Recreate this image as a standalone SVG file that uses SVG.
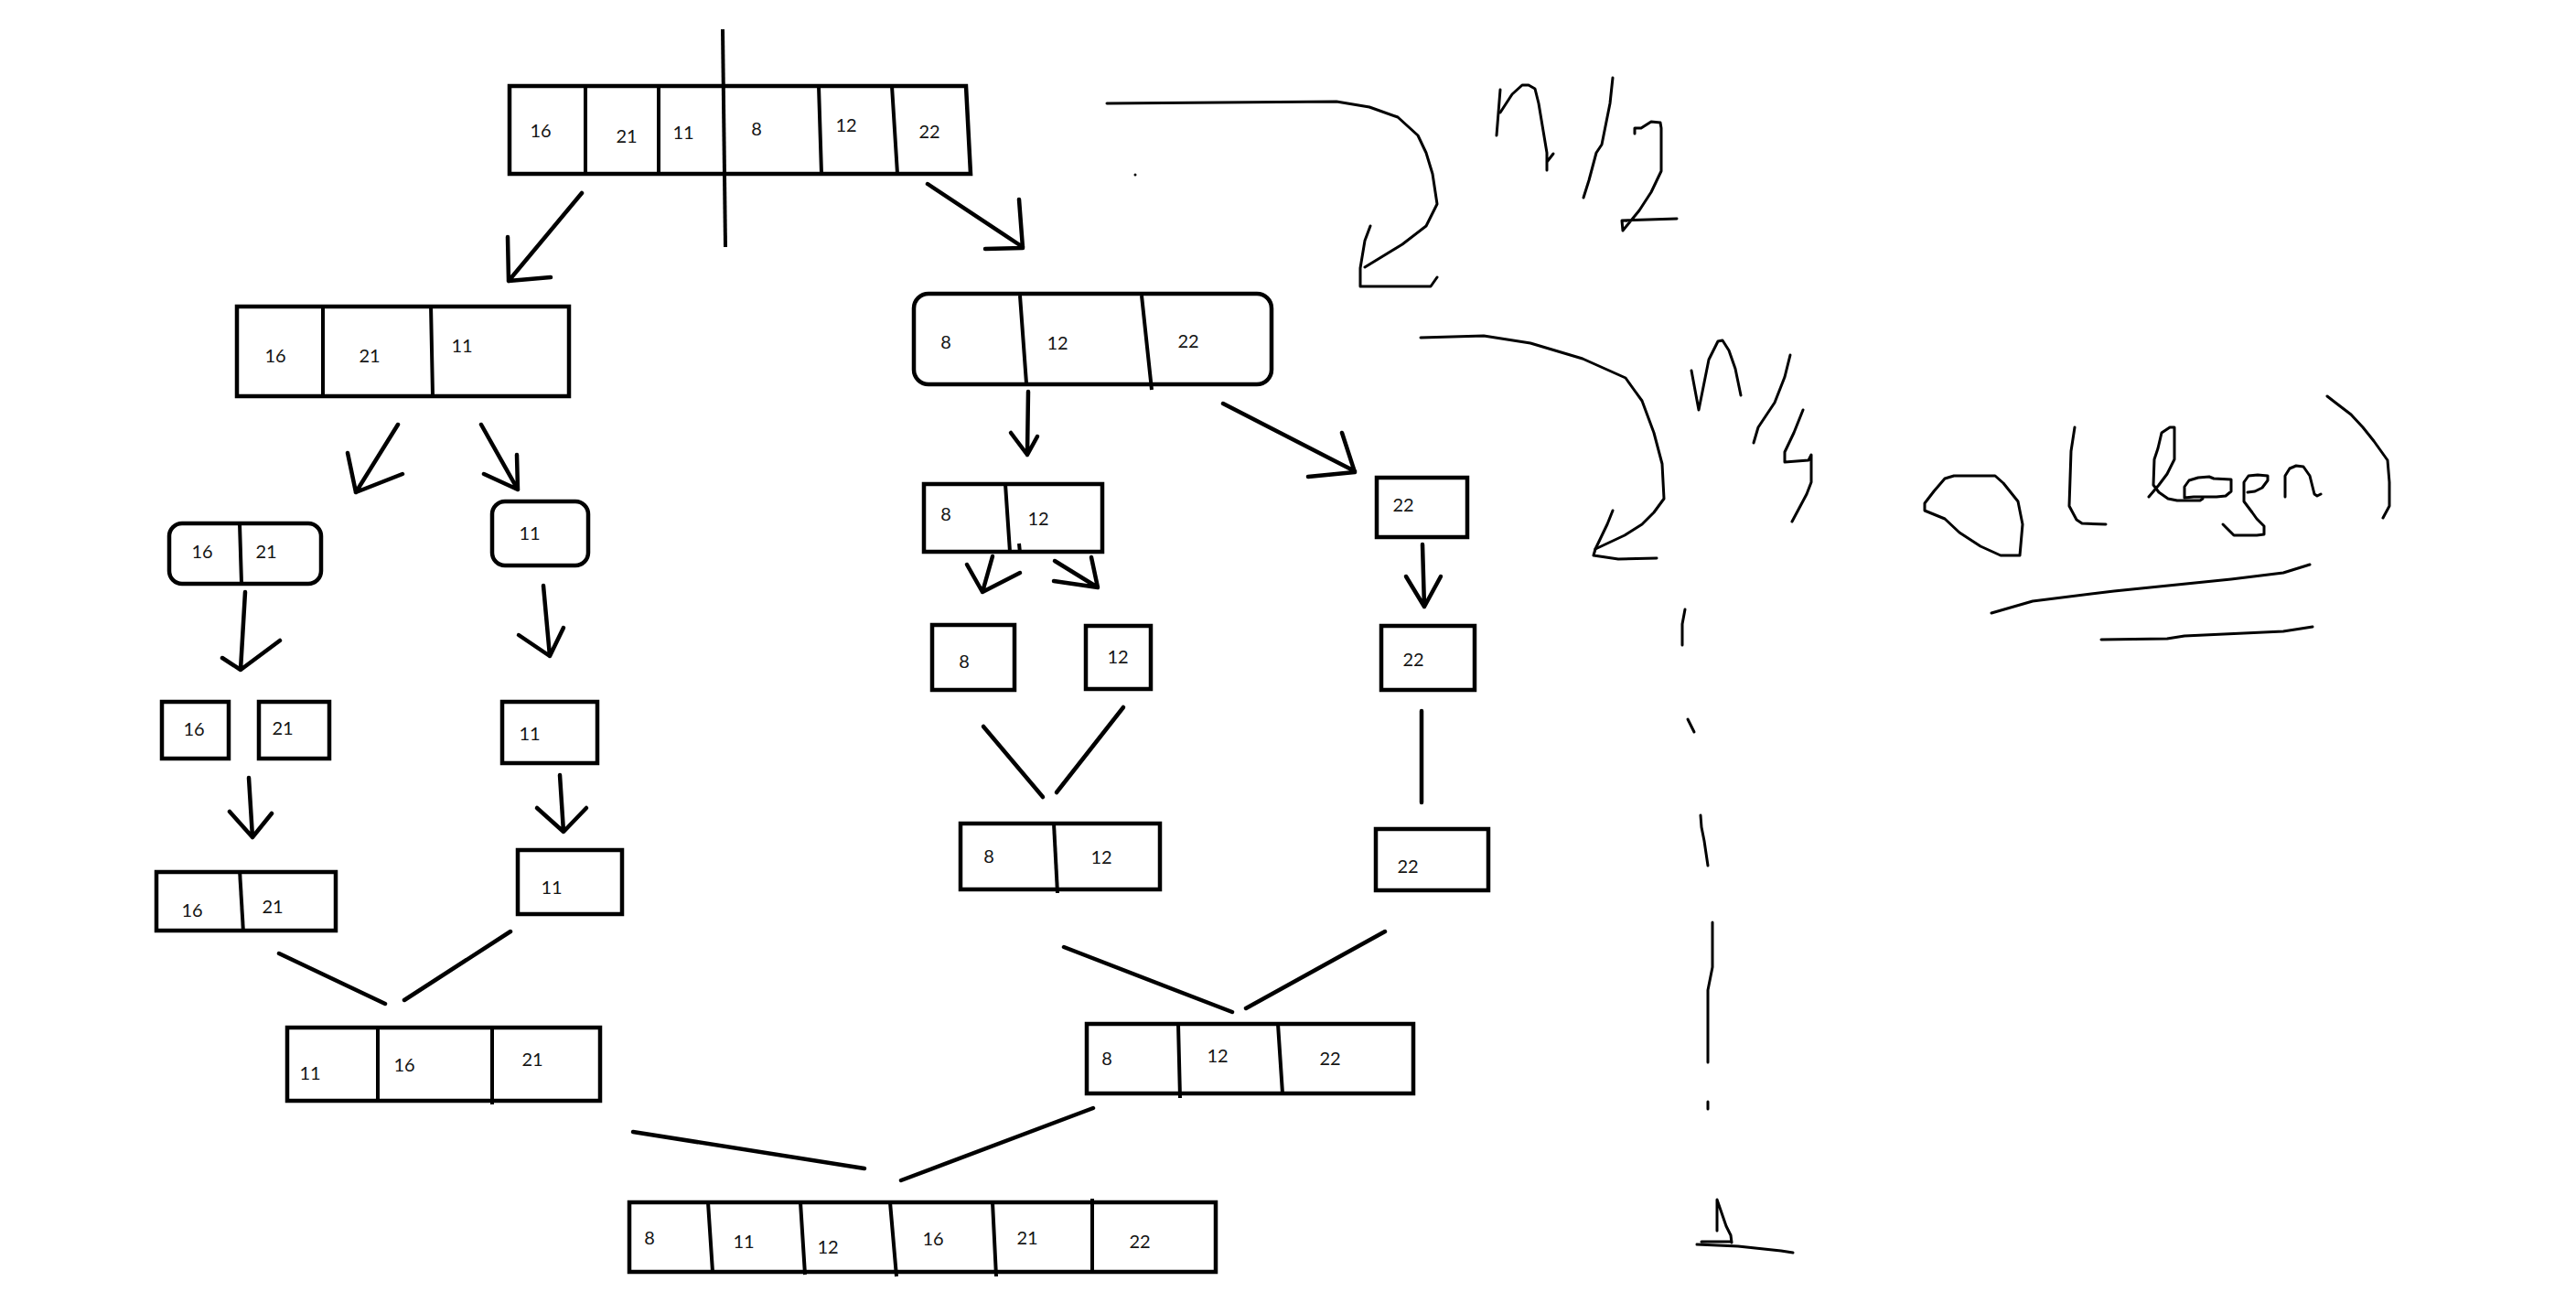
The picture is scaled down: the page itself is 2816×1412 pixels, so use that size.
<svg xmlns="http://www.w3.org/2000/svg" width="2816" height="1412" viewBox="0 0 2816 1412">
  <style>
    .box { fill: none; stroke: #000; stroke-width: 4.5; stroke-linejoin: miter; }
    .div { fill: none; stroke: #000; stroke-width: 4; }
    .num { font-family: Lato, "Open Sans", "Liberation Sans", sans-serif; font-size: 20px; fill: #141414; text-anchor: middle; }
    .edge { fill: none; stroke: #000; stroke-width: 4.5; stroke-linecap: round; stroke-linejoin: round; }
    .ink { fill: none; stroke: #000; stroke-width: 3; stroke-linecap: round; stroke-linejoin: round; }
  </style>
  <rect width="2816" height="1412" fill="#fff"/>

  <!-- level 0: the unsorted array, with the split line -->
  <g id="n-root">
    <path class="box" d="M557,94 L1056,94 L1061,190 L557,190 Z"/>
    <path class="div" d="M640,94 L640,190 M720,94 L720,190 M895,94 L898,190 M975,94 L981,190"/>
    <path class="div" d="M790,32 L793,270"/>
    <text class="num" x="591" y="150">16</text>
    <text class="num" x="685" y="156">21</text>
    <text class="num" x="747" y="152">11</text>
    <text class="num" x="827" y="148">8</text>
    <text class="num" x="925" y="144">12</text>
    <text class="num" x="1016" y="151">22</text>
  </g>

  <!-- level 1 -->
  <g id="n-left">
    <rect class="box" x="259" y="335" width="363" height="98"/>
    <path class="div" d="M353,335 L353,433 M471,333 L473,432"/>
    <text class="num" x="301" y="396">16</text>
    <text class="num" x="404" y="396">21</text>
    <text class="num" x="505" y="385">11</text>
  </g>
  <g id="n-right">
    <rect class="box" x="999" y="321" width="391" height="99" rx="16"/>
    <path class="div" d="M1115,323 L1122,419 M1248,323 L1259,426"/>
    <text class="num" x="1034" y="381">8</text>
    <text class="num" x="1156" y="382">12</text>
    <text class="num" x="1299" y="380">22</text>
  </g>

  <!-- level 2 -->
  <g id="n-16-21">
    <rect class="box" x="185" y="572" width="166" height="66" rx="14"/>
    <path class="div" d="M262,572 L264,638"/>
    <text class="num" x="221" y="610">16</text>
    <text class="num" x="291" y="610">21</text>
  </g>
  <g id="n-11">
    <rect class="box" x="538" y="548" width="105" height="70" rx="14"/>
    <text class="num" x="579" y="590">11</text>
  </g>
  <g id="n-8-12">
    <rect class="box" x="1010" y="529" width="195" height="74"/>
    <path class="div" d="M1099,529 L1104,603 M1114,594 L1115,604"/>
    <text class="num" x="1034" y="569">8</text>
    <text class="num" x="1135" y="574">12</text>
  </g>
  <g id="n-22">
    <rect class="box" x="1505" y="522" width="99" height="65"/>
    <text class="num" x="1534" y="559">22</text>
  </g>

  <!-- level 3: single elements -->
  <g id="n-16">
    <rect class="box" x="177" y="767" width="73" height="62"/>
    <text class="num" x="212" y="804">16</text>
  </g>
  <g id="n-21">
    <rect class="box" x="283" y="767" width="77" height="62"/>
    <text class="num" x="309" y="803">21</text>
  </g>
  <g id="n-11b">
    <rect class="box" x="549" y="767" width="104" height="67"/>
    <text class="num" x="579" y="809">11</text>
  </g>
  <g id="n-8">
    <rect class="box" x="1019" y="683" width="90" height="71"/>
    <text class="num" x="1054" y="730">8</text>
  </g>
  <g id="n-12">
    <rect class="box" x="1187" y="684" width="71" height="69"/>
    <text class="num" x="1222" y="725">12</text>
  </g>
  <g id="n-22b">
    <rect class="box" x="1510" y="684" width="102" height="70"/>
    <text class="num" x="1545" y="728">22</text>
  </g>

  <!-- level 4: first merges -->
  <g id="m-16-21">
    <rect class="box" x="171" y="953" width="196" height="64"/>
    <path class="div" d="M262,951 L266,1019"/>
    <text class="num" x="210" y="1002">16</text>
    <text class="num" x="298" y="998">21</text>
  </g>
  <g id="m-11">
    <rect class="box" x="566" y="929" width="114" height="70"/>
    <text class="num" x="603" y="977">11</text>
  </g>
  <g id="m-8-12">
    <rect class="box" x="1050" y="900" width="218" height="72"/>
    <path class="div" d="M1152,900 L1156,976"/>
    <text class="num" x="1081" y="943">8</text>
    <text class="num" x="1204" y="944">12</text>
  </g>
  <g id="m-22">
    <rect class="box" x="1504" y="906" width="123" height="67"/>
    <text class="num" x="1539" y="954">22</text>
  </g>

  <!-- level 5 -->
  <g id="m-11-16-21">
    <rect class="box" x="314" y="1123" width="342" height="80"/>
    <path class="div" d="M413,1123 L413,1203 M538,1123 L538,1207"/>
    <text class="num" x="339" y="1180">11</text>
    <text class="num" x="442" y="1171">16</text>
    <text class="num" x="582" y="1165">21</text>
  </g>
  <g id="m-8-12-22">
    <rect class="box" x="1188" y="1119" width="357" height="76"/>
    <path class="div" d="M1288,1119 L1290,1200 M1397,1119 L1402,1195"/>
    <text class="num" x="1210" y="1164">8</text>
    <text class="num" x="1331" y="1161">12</text>
    <text class="num" x="1454" y="1164">22</text>
  </g>

  <!-- level 6: sorted result -->
  <g id="m-sorted">
    <rect class="box" x="688" y="1314" width="641" height="76"/>
    <path class="div" d="M774,1314 L779,1390 M875,1314 L880,1393 M973,1314 L980,1395 M1085,1314 L1089,1395 M1194,1310 L1194,1390"/>
    <text class="num" x="710" y="1360">8</text>
    <text class="num" x="813" y="1364">11</text>
    <text class="num" x="905" y="1370">12</text>
    <text class="num" x="1020" y="1361">16</text>
    <text class="num" x="1123" y="1360">21</text>
    <text class="num" x="1246" y="1364">22</text>
  </g>

  <!-- split arrows and merge lines -->
  <g id="connectors">
    <path class="edge" d="M636,211 L556,307 M555,259 L556,307 L602,303"/>
    <path class="edge" d="M1014,201 L1118,270 M1114,218 L1118,271 L1077,272"/>
    <path class="edge" d="M435,464 L389,538 M380,495 L389,538 L440,518"/>
    <path class="edge" d="M526,464 L566,535 M565,497 L566,535 L529,518"/>
    <path class="edge" d="M1124,428 L1123,497 M1105,473 L1123,497 L1134,477"/>
    <path class="edge" d="M1337,441 L1481,515 M1467,473 L1481,516 L1430,521"/>
    <path class="edge" d="M268,647 L263,732 M243,719 L263,732 L306,700"/>
    <path class="edge" d="M594,640 L601,717 M567,694 L601,717 L616,686"/>
    <path class="edge" d="M1085,608 L1074,647 M1057,617 L1074,647 L1115,626"/>
    <path class="edge" d="M1153,613 L1200,642 M1193,609 L1200,642 L1152,635"/>
    <path class="edge" d="M1555,595 L1557,663 M1537,630 L1557,663 L1575,630"/>
    <path class="edge" d="M272,850 L276,915 M251,887 L276,915 L297,889"/>
    <path class="edge" d="M612,847 L616,909 M587,883 L616,909 L641,883"/>
    <path class="edge" d="M1075,794 L1140,871 M1228,773 L1155,866"/>
    <path class="edge" d="M1554,777 L1554,877"/>
    <path class="edge" d="M305,1042 L421,1097 M558,1018 L442,1093"/>
    <path class="edge" d="M1163,1035 L1347,1106 M1514,1018 L1362,1102"/>
    <path class="edge" d="M692,1237 L945,1277 M1195,1211 L985,1290" stroke-width="5.5"/>
  </g>

  <!-- freehand notes: n/2, n/4 ... 1 and O(log n) -->
  <g id="notes">
    <path class="ink" d="M1210,113 L1461,111 L1497,117 L1528,128 L1550,148 L1559,167 L1566,190 L1571,223 L1559,247 L1533,267 L1492,292"/>
    <path class="ink" d="M1498,247 L1492,263 L1487,293 L1487,313 L1564,313 L1571,303"/>
    <circle cx="1241" cy="191" r="1.5" fill="#000"/>

    <path class="ink" d="M1640,98 L1636,148"/>
    <path class="ink" d="M1640,123 L1653,103 L1664,93 L1671,93 L1678,97 L1682,113 L1687,143 L1691,167 L1691,186 M1691,177 L1698,168"/>
    <path class="ink" d="M1763,85 L1760,113 L1751,158 L1745,167 L1737,197 L1731,216"/>
    <path class="ink" d="M1787,146 L1787,140 L1794,140 L1805,133 L1815,134 L1816,140 L1816,187 L1805,210 L1792,230 L1774,252 L1773,241 L1833,239"/>

    <path class="ink" d="M1553,369 L1622,367 L1673,375 L1730,392 L1777,413 L1787,427 L1795,438 L1808,473 L1817,507 L1819,545 L1808,560 L1795,573 L1776,585 L1744,600"/>
    <path class="ink" d="M1763,558 L1757,573 L1744,600 L1742,607 L1769,611 L1811,610"/>

    <path class="ink" d="M1849,405 L1857,448 L1868,393 L1878,373 L1883,372 L1890,383 L1897,403 L1903,432"/>
    <path class="ink" d="M1957,388 L1951,412 L1940,440 L1922,467 L1917,484"/>
    <path class="ink" d="M1971,448 L1961,473 L1951,494 L1951,505 L1977,503 L1980,497 L1980,527 L1975,540 L1959,570"/>

    <path class="ink" d="M1842,666 L1839,682 L1839,705"/>
    <path class="ink" d="M1845,786 L1852,800"/>
    <path class="ink" d="M1859,891 L1860,904 L1863,919 L1867,946"/>
    <path class="ink" d="M1872,1008 L1872,1057 L1867,1082 L1867,1161"/>
    <path class="ink" d="M1867,1204 L1867,1212"/>
    <path class="ink" d="M1877,1345 L1877,1311 L1887,1340 L1892,1350 L1893,1358 M1860,1357 L1893,1357 M1855,1360 L1900,1362 L1947,1367 L1960,1369"/>

    <path class="ink" d="M2126,523 L2136,520 L2181,520 L2190,528 L2206,548 L2211,573 L2208,607 L2187,607 L2165,597 L2142,582 L2126,567 L2104,558 L2104,550 L2114,537 Z"/>
    <path class="ink" d="M2268,467 L2264,493 L2262,553 L2270,568 L2276,572 L2302,573"/>
    <path class="ink" d="M2349,543 L2360,530 L2369,518 L2377,502 L2377,467 L2372,467 L2363,473 L2359,490 L2355,502 L2354,530 L2360,538 L2370,545 L2380,547 L2388,547 L2405,547 L2408,545"/>
    <path class="ink" d="M2388,544 L2388,532 L2393,525 L2403,522 L2415,521 L2420,523 L2439,524 L2439,537 L2433,542 L2423,543 L2408,543 L2398,543 Z"/>
    <path class="ink" d="M2457,538 L2465,537 L2473,533 L2479,525 L2479,520 L2468,519 L2458,520 L2453,527 L2453,548 L2462,560 L2467,567 L2475,575 L2475,584 L2467,585 L2442,585 L2435,578 L2430,573"/>
    <path class="ink" d="M2498,543 L2498,520 L2503,512 L2510,509 L2518,510 L2525,520 L2530,540 L2533,542 L2537,540"/>
    <path class="ink" d="M2544,433 L2553,440 L2570,453 L2583,467 L2595,482 L2610,503 L2612,527 L2612,553 L2605,566"/>
    <path class="ink" d="M2177,670 L2222,657 L2311,646 L2439,633 L2496,626 L2525,617"/>
    <path class="ink" d="M2297,699 L2369,698 L2388,695 L2496,690 L2528,685"/>
  </g>
</svg>
